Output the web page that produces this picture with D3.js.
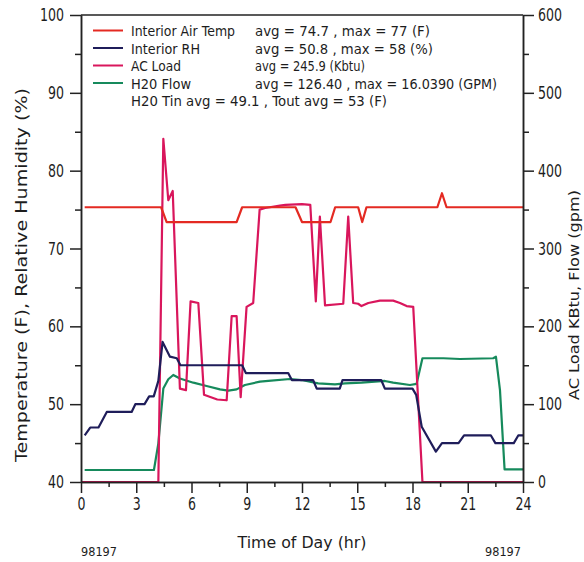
<!DOCTYPE html>
<html>
<head>
<meta charset="utf-8">
<script src="https://cdn.jsdelivr.net/npm/d3@7"></script>
<style>
  html, body { margin: 0; padding: 0; background: #fff; }
  svg { display: block; }
  text { font-family: "DejaVu Sans", sans-serif; fill: #1d1d1d; }
</style>
</head>
<body>
<svg id="chart" width="584" height="562"></svg>
<script>
// Hourly axis and scale settings
const hourTicks = [0, 3, 6, 9, 12, 15, 18, 21, 24];
const hourMinorTicks = [1.5, 4.5, 7.5, 10.5, 13.5, 16.5, 19.5, 22.5];
const leftTicks = [40, 50, 60, 70, 80, 90, 100];
const leftMinorTicks = [45, 55, 65, 75, 85, 95];
const rightTicks = [0, 100, 200, 300, 400, 500, 600];
const rightMinorTicks = [50, 150, 250, 350, 450, 550];

// Interior air temperature (F), left axis
const tempHours = [0.2, 4.35, 4.65, 8.45, 8.75, 11.65, 12.0, 13.55, 13.8, 15.05, 15.27, 15.5, 19.35, 19.6, 19.85, 24];
const tempValues = [75.3, 75.3, 73.4, 73.4, 75.3, 75.3, 73.4, 73.4, 75.3, 75.3, 73.4, 75.3, 75.3, 77.1, 75.3, 75.3];

// Interior relative humidity (%), left axis
const rhHours = [0.2, 0.5, 0.95, 1.4, 2.75, 2.95, 3.45, 3.7, 3.95, 4.2, 4.43, 4.83, 5.2, 5.4, 8.75, 8.95, 11.25, 11.45, 12.6, 12.8, 14.05, 14.2, 16.3, 16.5, 18.0, 18.2, 18.5, 19.27, 19.6, 20.5, 20.8, 22.25, 22.5, 23.5, 23.75, 24];
const rhValues = [46.0, 47, 47, 49, 49, 50, 50, 51, 51, 53, 58, 56.1, 55.9, 55, 55, 54, 54, 53.1, 53.1, 52, 52, 53.1, 53.1, 52, 52, 51.2, 47.1, 43.9, 45, 45, 46, 46, 45, 45, 46, 46];

// AC load (kBtu), right axis
const acHours = [0, 4.2, 4.47, 4.74, 4.98, 5.37, 5.7, 5.95, 6.37, 6.68, 7.4, 7.91, 8.18, 8.45, 8.67, 8.99, 9.35, 9.7, 10.0, 10.8, 11.1, 12.0, 12.45, 12.75, 12.97, 13.25, 14.24, 14.51, 14.78, 15.05, 15.23, 15.6, 16.23, 16.95, 17.32, 17.68, 18.04, 18.54, 24];
const acValues = [0, 0, 441, 362, 374, 120, 118, 232, 230, 112, 106, 105, 213, 213, 109, 225, 230, 350, 352, 355, 356, 357, 356, 232, 341, 227, 229, 341, 230, 229, 226, 230, 233, 233, 230, 226, 225, 0, 0];

// Chilled water flow (gpm), right axis
const flowHours = [0.2, 3.96, 4.2, 4.47, 4.74, 5.01, 5.37, 6.1, 6.82, 7.55, 8.0, 8.45, 8.9, 9.72, 10.17, 11.35, 11.98, 12.88, 13.79, 14.33, 15.24, 15.96, 16.5, 16.95, 17.86, 18.22, 18.54, 19.68, 20.58, 22.38, 22.53, 22.75, 23.0, 24];
const flowValues = [15.4, 15.4, 49.7, 120, 132, 137.5, 133, 127.6, 123.3, 119, 117.3, 119, 124.6, 129, 130, 132.3, 131, 126.8, 125.5, 126.8, 127.6, 128.9, 129.8, 127.6, 124.6, 126, 159, 159, 158, 159, 161, 118, 16.3, 16.3];

// Legend entries
const legendNames = ["Interior Air Temp", "Interior RH", "AC Load", "H20 Flow"];
const legendStats = ["avg = 74.7 , max = 77 (F)", "avg = 50.8 , max = 58 (%)", "avg = 245.9 (Kbtu)", "avg = 126.40 , max = 16.0390 (GPM)"];
const waterTempNote = "H20 Tin avg = 49.1 , Tout avg = 53 (F)";
const dayCode = "98197";

const colors = { temp: "#e42a22", rh: "#1f1d5a", ac: "#d9165c", flow: "#168a5c" };

const svg = d3.select("#chart");

const x = d3.scaleLinear().domain([0, 24]).range([81, 523]);
const yL = d3.scaleLinear().domain([40, 100]).range([482, 15]);
const yR = d3.scaleLinear().domain([0, 600]).range([482, 15]);

const zip = (xs, ys) => xs.map((t, i) => [t, ys[i]]);

const lineL = d3.line().x(d => x(d[0])).y(d => yL(d[1]));
const lineR = d3.line().x(d => x(d[0])).y(d => yR(d[1]));

// Series lines
const series = [
  { data: zip(flowHours, flowValues), gen: lineR, color: colors.flow },
  { data: zip(acHours, acValues), gen: lineR, color: colors.ac },
  { data: zip(rhHours, rhValues), gen: lineL, color: colors.rh },
  { data: zip(tempHours, tempValues), gen: lineL, color: colors.temp }
];
svg.append("g").selectAll("path").data(series).join("path")
  .attr("d", s => s.gen(s.data))
  .attr("fill", "none")
  .attr("stroke", s => s.color)
  .attr("stroke-width", 2.2)
  .attr("stroke-linejoin", "round");

// Axes
const axisStroke = "#222";
function styleAxis(g) {
  g.selectAll("path, line").attr("stroke", axisStroke).attr("stroke-width", 1.5);
}
function styleLabels(g) {
  g.selectAll("text")
    .style("font-size", "17.5px")
    .style("font-family", "DejaVu Sans, sans-serif")
    .attr("fill", "#1d1d1d")
    .attr("textLength", function() { return this.textContent.length * 8; })
    .attr("lengthAdjust", "spacingAndGlyphs");
}

// top frame line
svg.append("line")
  .attr("x1", x(0)).attr("x2", x(24))
  .attr("y1", yL(100)).attr("y2", yL(100))
  .attr("stroke", axisStroke).attr("stroke-width", 1.5);

const gBottom = svg.append("g").attr("transform", `translate(0,${yL(40)})`);
gBottom.append("g").call(d3.axisBottom(x).tickValues(hourMinorTicks).tickSize(5).tickSizeOuter(0).tickFormat(""));
gBottom.append("g").call(d3.axisBottom(x).tickValues(hourTicks).tickSize(11).tickPadding(5).tickSizeOuter(0));
styleAxis(gBottom); styleLabels(gBottom);

const gLeft = svg.append("g").attr("transform", `translate(${x(0)},0)`);
gLeft.append("g").call(d3.axisLeft(yL).tickValues(leftMinorTicks).tickSize(6).tickSizeOuter(0).tickFormat(""));
gLeft.append("g").call(d3.axisLeft(yL).tickValues(leftTicks).tickSize(11).tickPadding(6).tickSizeOuter(0));
styleAxis(gLeft); styleLabels(gLeft);

const gRight = svg.append("g").attr("transform", `translate(${x(24)},0)`);
gRight.append("g").call(d3.axisRight(yR).tickValues(rightMinorTicks).tickSize(6).tickSizeOuter(0).tickFormat(""));
gRight.append("g").call(d3.axisRight(yR).tickValues(rightTicks).tickSize(11).tickPadding(4).tickSizeOuter(0));
styleAxis(gRight); styleLabels(gRight);

// Axis titles
svg.append("text")
  .attr("transform", `translate(27,${(462 + 88) / 2}) rotate(-90)`)
  .attr("text-anchor", "middle")
  .style("font-size", "15px")
  .attr("textLength", 374).attr("lengthAdjust", "spacingAndGlyphs")
  .text("Temperature (F), Relative Humidity (%)");

svg.append("text")
  .attr("transform", `translate(579,${(400 + 190) / 2}) rotate(-90)`)
  .attr("text-anchor", "middle")
  .style("font-size", "14.5px")
  .attr("textLength", 210).attr("lengthAdjust", "spacingAndGlyphs")
  .text("AC Load KBtu, Flow (gpm)");

svg.append("text")
  .attr("x", 302).attr("y", 548)
  .attr("text-anchor", "middle")
  .style("font-size", "16px")
  .attr("textLength", 129).attr("lengthAdjust", "spacingAndGlyphs")
  .text("Time of Day (hr)");

[81, 485].forEach(px => {
  svg.append("text")
    .attr("x", px).attr("y", 556)
    .style("font-size", "13px")
    .attr("textLength", 36).attr("lengthAdjust", "spacingAndGlyphs")
    .text(dayCode);
});

// Legend
const legendColors = [colors.temp, colors.rh, colors.ac, colors.flow];
const nameWidths = [104, 69, 50, 60];
const statWidths = [175, 178, 110, 242];
const rowBase = [36, 53.5, 71, 88.5];
const legend = svg.append("g");
legendNames.forEach((name, i) => {
  legend.append("line")
    .attr("x1", 93).attr("x2", 123)
    .attr("y1", rowBase[i] - 5.5).attr("y2", rowBase[i] - 5.5)
    .attr("stroke", legendColors[i]).attr("stroke-width", 2);
  legend.append("text")
    .attr("x", 131).attr("y", rowBase[i])
    .style("font-size", "14.5px")
    .attr("textLength", nameWidths[i]).attr("lengthAdjust", "spacingAndGlyphs")
    .text(name);
  legend.append("text")
    .attr("x", 255).attr("y", rowBase[i])
    .style("font-size", "14.5px")
    .attr("textLength", statWidths[i]).attr("lengthAdjust", "spacingAndGlyphs")
    .text(legendStats[i]);
});
legend.append("text")
  .attr("x", 131).attr("y", 106)
  .style("font-size", "14.5px")
  .attr("textLength", 256).attr("lengthAdjust", "spacingAndGlyphs")
  .text(waterTempNote);
</script>
</body>
</html>
